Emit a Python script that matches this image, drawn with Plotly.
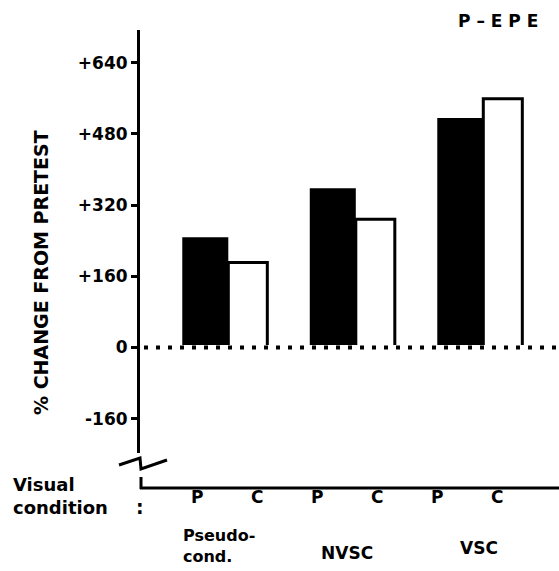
import plotly.graph_objects as go

# Percent change from pretest, P-EPE
groups = ["Pseudo-cond.", "NVSC", "VSC"]
p_values = [248, 358, 516]      # P bars (filled)
c_values = [191, 288, 559]      # C bars (open)
tick_vals = [640, 480, 320, 160, 0, -160]
tick_text = ["+640", "+480", "+320", "+160", "0", "-160"]
cond_labels = ["P", "C", "P", "C", "P", "C"]

W, H = 559, 571
L, R, T, B = 140, 0, 30, 118
PW, PH = W - L - R, H - T - B
FONT = "DejaVu Sans"


def px(x):
    return (x - L) / PW


def py(y):
    return (H - B - y) / PH


x_pos = list(range(len(groups)))
p_width, c_width = 0.361, 0.306

fig = go.Figure()
fig.add_trace(go.Bar(
    x=x_pos, y=p_values, width=p_width, offset=-p_width,
    marker=dict(color="black", line=dict(width=0)), name="P",
))
fig.add_trace(go.Bar(
    x=x_pos, y=c_values, width=c_width, offset=0,
    marker=dict(color="white", line=dict(color="black", width=3)), name="C",
))

shapes = []
# hide the bottom edge of the open bars, then the dotted zero line
shapes.append(dict(type="line", xref="paper", yref="y", x0=px(143), x1=1, y0=0, y1=0,
                   line=dict(color="white", width=5), layer="above"))
shapes.append(dict(type="line", xref="paper", yref="y", x0=px(144), x1=1, y0=0, y1=0,
                   line=dict(color="black", width=4, dash="4px,8px"), layer="above"))
# axis break and lower baseline
shapes.append(dict(type="path", xref="paper", yref="paper",
                   path=f"M {px(119)},{py(465)} L {px(140)},{py(458)} L {px(141)},{py(469)} L {px(167)},{py(460)}",
                   line=dict(color="black", width=3)))
shapes.append(dict(type="line", xref="paper", yref="paper", x0=px(141), x1=px(141), y0=py(477), y1=py(489),
                   line=dict(color="black", width=3)))
shapes.append(dict(type="line", xref="paper", yref="paper", x0=px(140), x1=1, y0=py(488), y1=py(488),
                   line=dict(color="black", width=3)))

ann = []
bold = dict(family=FONT, size=17, color="black")
for i, lab in enumerate(cond_labels):
    xc = -0.245 + 0.471 * i
    ann.append(dict(x=xc, y=py(497), xref="x", yref="paper", text=f"<b>{lab}</b>",
                    showarrow=False, font=bold, xanchor="center", yanchor="middle"))
ann.append(dict(x=px(181), y=py(546), xref="paper", yref="paper",
                text="<b>Pseudo-<br>cond.</b>", showarrow=False, align="left",
                font=dict(family=FONT, size=16, color="black"), xanchor="left", yanchor="middle"))
ann.append(dict(x=px(347), y=py(553), xref="paper", yref="paper", text="<b>NVSC</b>",
                showarrow=False, font=bold, xanchor="center", yanchor="middle"))
ann.append(dict(x=px(479), y=py(548), xref="paper", yref="paper", text="<b>VSC</b>",
                showarrow=False, font=bold, xanchor="center", yanchor="middle"))
ann.append(dict(x=px(11), y=py(496), xref="paper", yref="paper",
                text="<b>Visual<br>condition</b>", showarrow=False, align="left",
                font=dict(family=FONT, size=18, color="black"), xanchor="left", yanchor="middle"))
ann.append(dict(x=px(140), y=py(507), xref="paper", yref="paper",
                text="<b>:</b>", showarrow=False,
                font=dict(family=FONT, size=19, color="black"), xanchor="center", yanchor="middle"))
ann.append(dict(x=px(41), y=py(273), xref="paper", yref="paper",
                text="<b>% CHANGE FROM PRETEST</b>", showarrow=False, textangle=-90,
                font=dict(family=FONT, size=19, color="black"), xanchor="center", yanchor="middle"))
ann.append(dict(x=px(498), y=py(21), xref="paper", yref="paper",
                text="<b>P – E P E</b>", showarrow=False,
                font=dict(family=FONT, size=17, color="black"), xanchor="center", yanchor="middle"))

fig.update_layout(
    width=W, height=H,
    margin=dict(l=L, r=R, t=T, b=B, pad=0),
    paper_bgcolor="white", plot_bgcolor="white",
    showlegend=False, barmode="overlay",
    shapes=shapes, annotations=ann,
    xaxis=dict(range=[(140 - 228.3) / 127.5, (559 - 228.3) / 127.5], showticklabels=False,
               showgrid=False, zeroline=False, showline=False, ticks=""),
    yaxis=dict(range=[-237.1, 713.5], tickvals=tick_vals, ticktext=[f"<b>{t}</b>" for t in tick_text],
               showgrid=False, zeroline=False, showline=True, linecolor="black", linewidth=3,
               ticks="outside", ticklen=6, tickwidth=3, tickcolor="black",
               tickfont=dict(family=FONT, size=17, color="black")),
)

fig.write_html("out.html")
